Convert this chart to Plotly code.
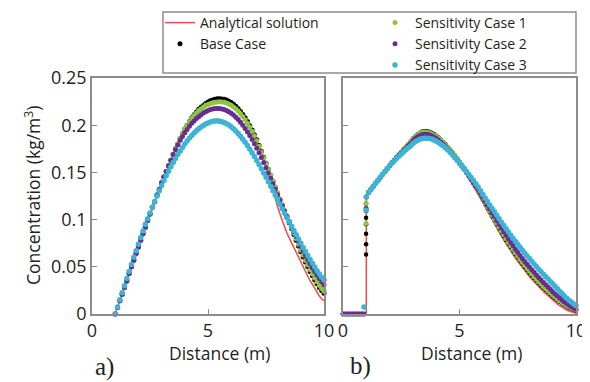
import plotly.graph_objects as go

# ---------------- data ----------------
a_x = [1.0, 1.1, 1.2, 1.3, 1.4, 1.5, 1.6, 1.7, 1.8, 1.9,
       2.0, 2.1, 2.2, 2.3, 2.4, 2.5, 2.6, 2.7, 2.8, 2.9,
       3.0, 3.1, 3.2, 3.3, 3.4, 3.5, 3.6, 3.7, 3.8, 3.9,
       4.0, 4.1, 4.2, 4.3, 4.4, 4.5, 4.6, 4.7, 4.8, 4.9,
       5.0, 5.1, 5.2, 5.3, 5.4, 5.5, 5.6, 5.7, 5.8, 5.9,
       6.0, 6.1, 6.2, 6.3, 6.4, 6.5, 6.6, 6.7, 6.8, 6.9,
       7.0, 7.1, 7.2, 7.3, 7.4, 7.5, 7.6, 7.7, 7.8, 7.9,
       8.0, 8.1, 8.2, 8.3, 8.4, 8.5, 8.6, 8.7, 8.8, 8.9,
       9.0, 9.1, 9.2, 9.3, 9.4, 9.5, 9.6, 9.7, 9.8, 9.9,
       10.0]
b_x = list(a_x)

# panel a)
a_base = [0.000, 0.007, 0.014, 0.021, 0.028, 0.035, 0.043, 0.050, 0.057, 0.064,
          0.071, 0.078, 0.085, 0.092, 0.099, 0.106, 0.113, 0.119, 0.126, 0.132,
          0.139, 0.145, 0.151, 0.157, 0.163, 0.169, 0.175, 0.180, 0.186, 0.191,
          0.196, 0.200, 0.204, 0.208, 0.211, 0.214, 0.217, 0.219, 0.221, 0.223,
          0.2245, 0.2258, 0.2268, 0.2275, 0.2279, 0.2280, 0.2278, 0.2274, 0.2266, 0.2255,
          0.2240, 0.2222, 0.2200, 0.2175, 0.2146, 0.2114, 0.2078, 0.2038, 0.1995, 0.1950,
          0.1900, 0.1845, 0.1785, 0.1723, 0.1660, 0.1597, 0.1534, 0.1470, 0.1405, 0.1340,
          0.1276, 0.1213, 0.1150, 0.1088, 0.1027, 0.0967, 0.0905, 0.0843, 0.0782, 0.0721,
          0.0660, 0.0605, 0.0550, 0.0500, 0.0450, 0.0405, 0.0360, 0.0320, 0.0280, 0.0250,
          0.0220]
a_analytical = [0.000, 0.007, 0.014, 0.021, 0.028, 0.035, 0.043, 0.050, 0.057, 0.064,
                0.071, 0.078, 0.085, 0.092, 0.099, 0.106, 0.113, 0.119, 0.126, 0.132,
                0.139, 0.145, 0.151, 0.157, 0.163, 0.169, 0.175, 0.180, 0.186, 0.191,
                0.196, 0.200, 0.204, 0.208, 0.211, 0.214, 0.217, 0.219, 0.221, 0.223,
                0.2245, 0.2258, 0.2268, 0.2275, 0.2279, 0.2280, 0.2278, 0.2274, 0.2266, 0.2255,
                0.2240, 0.2222, 0.2200, 0.2175, 0.2146, 0.2114, 0.2078, 0.2038, 0.1995, 0.1950,
                0.1900, 0.1845, 0.1785, 0.1723, 0.1660, 0.1577, 0.1484, 0.1390, 0.1295, 0.1210,
                0.1136, 0.1063, 0.0990, 0.0918, 0.0857, 0.0807, 0.0755, 0.0703, 0.0652, 0.0601,
                0.0550, 0.0505, 0.0450, 0.0400, 0.0350, 0.0315, 0.0270, 0.0230, 0.0190, 0.0160,
                0.0140]
a_case1 = [0.000, 0.007, 0.014, 0.021, 0.028, 0.035, 0.043, 0.050, 0.057, 0.064,
           0.071, 0.078, 0.085, 0.092, 0.099, 0.106, 0.113, 0.119, 0.126, 0.132,
           0.139, 0.145, 0.151, 0.157, 0.163, 0.169, 0.175, 0.180, 0.186, 0.191,
           0.196, 0.1998, 0.2036, 0.2074, 0.2102, 0.2130, 0.2157, 0.2175, 0.2193, 0.2211,
           0.2220, 0.2230, 0.2238, 0.2244, 0.2247, 0.2248, 0.2246, 0.2242, 0.2235, 0.2225,
           0.2211, 0.2194, 0.2174, 0.2150, 0.2123, 0.2092, 0.2058, 0.2020, 0.1980, 0.1936,
           0.1887, 0.1834, 0.1777, 0.1717, 0.1656, 0.1595, 0.1534, 0.1472, 0.1409, 0.1345,
           0.1282, 0.1220, 0.1158, 0.1097, 0.1037, 0.0978, 0.0917, 0.0856, 0.0796, 0.0736,
           0.0676, 0.0622, 0.0568, 0.0518, 0.0469, 0.0425, 0.0381, 0.0341, 0.0301, 0.0271,
           0.0240]
a_case2 = [0.000, 0.007, 0.014, 0.021, 0.028, 0.035, 0.043, 0.050, 0.057, 0.064,
           0.071, 0.078, 0.085, 0.092, 0.099, 0.106, 0.113, 0.119, 0.126, 0.132,
           0.139, 0.145, 0.151, 0.157, 0.163, 0.169, 0.174, 0.179, 0.184, 0.188,
           0.192, 0.1955, 0.199, 0.202, 0.2045, 0.207, 0.209, 0.211, 0.2128, 0.2143,
           0.2155, 0.2165, 0.2172, 0.2176, 0.2177, 0.2176, 0.2172, 0.2165, 0.2155, 0.2142,
           0.2126, 0.2107, 0.2085, 0.2060, 0.2032, 0.2000, 0.1966, 0.1929, 0.1890, 0.1848,
           0.1804, 0.1757, 0.1708, 0.1657, 0.1604, 0.1550, 0.1494, 0.1437, 0.1380, 0.1322,
           0.1264, 0.1206, 0.1149, 0.1092, 0.1036, 0.0981, 0.0927, 0.0874, 0.0822, 0.0772,
           0.0715, 0.0668, 0.0622, 0.0577, 0.0533, 0.0490, 0.0450, 0.0412, 0.0376, 0.0342,
           0.0310]
a_case3 = [0.000, 0.0075, 0.0150, 0.0225, 0.0300, 0.0375, 0.0450, 0.0525, 0.0600, 0.0670,
           0.0740, 0.0810, 0.0880, 0.0950, 0.1010, 0.1070, 0.1130, 0.1190, 0.1250, 0.1305,
           0.1360, 0.1413, 0.1464, 0.1513, 0.1560, 0.1605, 0.1648, 0.1689, 0.1728, 0.1765,
           0.1800, 0.1833, 0.1864, 0.1892, 0.1918, 0.1942, 0.1963, 0.1982, 0.1998, 0.2012,
           0.2024, 0.2034, 0.2041, 0.2045, 0.2046, 0.2043, 0.2037, 0.2028, 0.2016, 0.2001,
           0.1983, 0.1962, 0.1938, 0.1912, 0.1883, 0.1852, 0.1819, 0.1784, 0.1747, 0.1708,
           0.1668, 0.1626, 0.1583, 0.1539, 0.1494, 0.1448, 0.1401, 0.1354, 0.1306, 0.1258,
           0.1210, 0.1162, 0.1114, 0.1067, 0.1020, 0.0975, 0.0930, 0.0885, 0.0840, 0.0795,
           0.0750, 0.0705, 0.0662, 0.0620, 0.0578, 0.0537, 0.0497, 0.0459, 0.0423, 0.0390,
           0.0360]

# panel b)
b_pre_x = [0.0, 0.1, 0.2, 0.3, 0.4, 0.5, 0.6, 0.7, 0.8, 0.9]
b_zero_pre = [0.0, 0.0, 0.0, 0.0, 0.0, 0.0, 0.0, 0.0, 0.0, 0.0]
b_case3_pre = [-0.0015, -0.0015, -0.0015, -0.0015, -0.0015, -0.0015, -0.0015, -0.0015, -0.0015, 0.0075]
b_front_x = 0.99
b_base_front = [0.063, 0.074, 0.085, 0.095, 0.102, 0.109, 0.117]
b_case1_front = [0.096, 0.117]
b_case2_front = [0.112]
b_case3_front = [0.110]
b_line_x = [0.0, 1.0]
b_line_pre = [0.0, 0.0]

b_base = [0.1240, 0.1289, 0.1322, 0.1354, 0.1386, 0.1417, 0.1449, 0.1480, 0.1510, 0.1541,
          0.1571, 0.1601, 0.1630, 0.1659, 0.1688, 0.1716, 0.1744, 0.1771, 0.1798, 0.1824,
          0.1858, 0.1884, 0.1905, 0.1921, 0.1932, 0.1937, 0.1936, 0.1930, 0.1920, 0.1906,
          0.1889, 0.1869, 0.1847, 0.1823, 0.1797, 0.1770, 0.1741, 0.1711, 0.1680, 0.1647,
          0.1613, 0.1578, 0.1542, 0.1505, 0.1467, 0.1428, 0.1389, 0.1349, 0.1308, 0.1262,
          0.1216, 0.1170, 0.1125, 0.1080, 0.1036, 0.0992, 0.0949, 0.0906, 0.0864, 0.0823,
          0.0783, 0.0744, 0.0706, 0.0669, 0.0633, 0.0598, 0.0564, 0.0531, 0.0499, 0.0468,
          0.0438, 0.0409, 0.0381, 0.0354, 0.0328, 0.0303, 0.0279, 0.0255, 0.0232, 0.0210,
          0.0189, 0.0168, 0.0148, 0.0129, 0.0111, 0.0095, 0.0080, 0.0067, 0.0056, 0.0046,
          0.0038]
b_analytical = [0.1240, 0.1289, 0.1322, 0.1354, 0.1386, 0.1417, 0.1449, 0.1480, 0.1510, 0.1541,
                0.1571, 0.1601, 0.1630, 0.1659, 0.1688, 0.1716, 0.1744, 0.1771, 0.1798, 0.1824,
                0.1858, 0.1884, 0.1905, 0.1921, 0.1932, 0.1937, 0.1936, 0.1930, 0.1920, 0.1906,
                0.1889, 0.1869, 0.1847, 0.1823, 0.1797, 0.1770, 0.1736, 0.1701, 0.1665, 0.1627,
                0.1588, 0.1548, 0.1512, 0.1475, 0.1437, 0.1393, 0.1351, 0.1309, 0.1268, 0.1222,
                0.1176, 0.1130, 0.1085, 0.1040, 0.0996, 0.0952, 0.0909, 0.0866, 0.0824, 0.0783,
                0.0743, 0.0704, 0.0666, 0.0629, 0.0593, 0.0558, 0.0524, 0.0491, 0.0459, 0.0428,
                0.0398, 0.0369, 0.0341, 0.0314, 0.0288, 0.0263, 0.0239, 0.0215, 0.0192, 0.0170,
                0.0149, 0.0128, 0.0108, 0.0089, 0.0071, 0.0055, 0.0042, 0.0031, 0.0021, 0.0014,
                0.0008]
b_case1 = [0.1240, 0.1289, 0.1322, 0.1354, 0.1386, 0.1417, 0.1449, 0.1480, 0.1510, 0.1541,
           0.1571, 0.1601, 0.1630, 0.1659, 0.1688, 0.1716, 0.1744, 0.1771, 0.1798, 0.1824,
           0.1855, 0.1879, 0.1899, 0.1914, 0.1924, 0.1928, 0.1926, 0.1920, 0.1910, 0.1896,
           0.1880, 0.1861, 0.1840, 0.1817, 0.1792, 0.1766, 0.1738, 0.1709, 0.1679, 0.1647,
           0.1614, 0.1580, 0.1545, 0.1509, 0.1472, 0.1433, 0.1395, 0.1355, 0.1314, 0.1268,
           0.1223, 0.1178, 0.1133, 0.1089, 0.1045, 0.1002, 0.0960, 0.0918, 0.0877, 0.0837,
           0.0797, 0.0758, 0.0720, 0.0683, 0.0647, 0.0612, 0.0578, 0.0545, 0.0513, 0.0482,
           0.0452, 0.0423, 0.0395, 0.0368, 0.0342, 0.0317, 0.0292, 0.0268, 0.0245, 0.0223,
           0.0201, 0.0180, 0.0160, 0.0141, 0.0123, 0.0106, 0.0091, 0.0077, 0.0064, 0.0053,
           0.0044]
b_case2 = [0.1240, 0.1289, 0.1322, 0.1354, 0.1386, 0.1417, 0.1449, 0.1480, 0.1510, 0.1541,
           0.1571, 0.1601, 0.1630, 0.1659, 0.1683, 0.1706, 0.1732, 0.1757, 0.1782, 0.1806,
           0.1836, 0.1858, 0.1877, 0.1891, 0.1901, 0.1905, 0.1904, 0.1898, 0.1889, 0.1876,
           0.1860, 0.1841, 0.1820, 0.1797, 0.1772, 0.1746, 0.1718, 0.1690, 0.1661, 0.1630,
           0.1598, 0.1566, 0.1533, 0.1498, 0.1463, 0.1428, 0.1393, 0.1357, 0.1320, 0.1278,
           0.1236, 0.1194, 0.1152, 0.1111, 0.1071, 0.1032, 0.0991, 0.0950, 0.0910, 0.0871,
           0.0833, 0.0795, 0.0758, 0.0722, 0.0687, 0.0653, 0.0620, 0.0588, 0.0557, 0.0527,
           0.0498, 0.0469, 0.0441, 0.0414, 0.0387, 0.0360, 0.0334, 0.0309, 0.0285, 0.0261,
           0.0236, 0.0212, 0.0190, 0.0169, 0.0149, 0.0128, 0.0110, 0.0093, 0.0077, 0.0063,
           0.0050]
b_case3 = [0.1240, 0.1289, 0.1322, 0.1354, 0.1386, 0.1417, 0.1449, 0.1480, 0.1510, 0.1541,
           0.1571, 0.1597, 0.1622, 0.1647, 0.1672, 0.1696, 0.1718, 0.1739, 0.1760, 0.1780,
           0.1806, 0.1824, 0.1839, 0.1850, 0.1858, 0.1862, 0.1862, 0.1859, 0.1853, 0.1843,
           0.1831, 0.1816, 0.1799, 0.1780, 0.1759, 0.1736, 0.1711, 0.1685, 0.1658, 0.1629,
           0.1599, 0.1570, 0.1540, 0.1509, 0.1478, 0.1447, 0.1415, 0.1381, 0.1346, 0.1306,
           0.1266, 0.1228, 0.1191, 0.1154, 0.1118, 0.1082, 0.1045, 0.1008, 0.0972, 0.0937,
           0.0903, 0.0868, 0.0834, 0.0801, 0.0769, 0.0738, 0.0706, 0.0675, 0.0645, 0.0615,
           0.0588, 0.0558, 0.0530, 0.0502, 0.0475, 0.0448, 0.0421, 0.0395, 0.0370, 0.0345,
           0.0320, 0.0294, 0.0268, 0.0242, 0.0216, 0.0192, 0.0168, 0.0146, 0.0126, 0.0107,
           0.0090]

x_ticks = [0, 5, 10]
x_tick_text = ["0", "5", "10"]
y_ticks = [0, 0.05, 0.1, 0.15, 0.2, 0.25]
y_tick_text = ["0", "0.05", "0.1", "0.15", "0.2", "0.25"]

for nm, arr in [("a_base", a_base), ("a_analytical", a_analytical), ("a_case1", a_case1),
                ("a_case2", a_case2), ("a_case3", a_case3), ("b_base", b_base),
                ("b_analytical", b_analytical), ("b_case1", b_case1), ("b_case2", b_case2),
                ("b_case3", b_case3)]:
    if len(arr) != len(a_x):
        raise ValueError(f"{nm} has {len(arr)} values, expected {len(a_x)}")

# ---------------- styling ----------------
W, H = 590, 382
PAGE_OFF = 8          # default body margin of the page the figure is shown in
RED = "#f04b4b"
BLACK = "#000000"
GREEN = "#8dc63f"
PURPLE = "#6a2c91"
CYAN = "#3cb4d6"
AX = "#8c8c8c"
TXT = "#231f20"
FONT = "Open Sans"


def px(v):
    return (v - PAGE_OFF) / W


def py(v):
    return 1 - (v - PAGE_OFF) / H


fig = go.Figure()

# ---- panel a ----
fig.add_trace(go.Scatter(x=a_x, y=a_analytical, mode="lines", name="Analytical solution",
                         line=dict(color=RED, width=1.5), legend="legend",
                         xaxis="x", yaxis="y", cliponaxis=False))
series_a = [("Base Case", a_base, BLACK, 5, "legend"),
            ("Sensitivity Case 1", a_case1, GREEN, 5, "legend2"),
            ("Sensitivity Case 2", a_case2, PURPLE, 5, "legend2"),
            ("Sensitivity Case 3", a_case3, CYAN, 5.5, "legend2")]
for name, ys, col, sz, lg in series_a:
    fig.add_trace(go.Scatter(x=a_x, y=ys, mode="markers", name=name,
                             marker=dict(color=col, size=sz, line=dict(width=0)),
                             legend=lg, xaxis="x", yaxis="y", cliponaxis=False))

# ---- panel b ----
fig.add_trace(go.Scatter(x=b_line_x + b_x, y=b_line_pre + b_analytical, mode="lines",
                         line=dict(color=RED, width=1.5), showlegend=False,
                         xaxis="x2", yaxis="y2", cliponaxis=False))
series_b = [
    (b_pre_x + [b_front_x] * len(b_base_front) + b_x, b_zero_pre + b_base_front + b_base, BLACK, 4.5),
    (b_pre_x + [b_front_x] * len(b_case1_front) + b_x, b_zero_pre + b_case1_front + b_case1, GREEN, 5),
    (b_pre_x + [b_front_x] * len(b_case2_front) + b_x, b_zero_pre + b_case2_front + b_case2, PURPLE, 5),
    (b_pre_x + [b_front_x] * len(b_case3_front) + b_x, b_case3_pre + b_case3_front + b_case3, CYAN, 5.5),
]
for xs, ys, col, sz in series_b:
    fig.add_trace(go.Scatter(x=xs, y=ys, mode="markers", showlegend=False,
                             marker=dict(color=col, size=sz, line=dict(width=0)),
                             xaxis="x2", yaxis="y2", cliponaxis=False))

axis_common = dict(showline=True, linecolor=AX, linewidth=1.5, mirror=True,
                   ticks="inside", ticklen=5, tickwidth=1, tickcolor=AX,
                   showgrid=False, zeroline=False, automargin=False,
                   tickfont=dict(family=FONT, size=18, color=TXT))
y_dom = [py(314), py(78)]


def label(text, x, y, size=17, family=FONT, angle=0):
    return dict(text=text, x=px(x), y=py(y), xref="paper", yref="paper",
                xanchor="center", yanchor="middle", textangle=angle, showarrow=False,
                font=dict(family=family, size=size, color=TXT))


fig.update_layout(
    width=W, height=H,
    margin=dict(l=0, r=0, t=0, b=0, pad=0, autoexpand=False),
    paper_bgcolor="white", plot_bgcolor="white",
    font=dict(family=FONT, color=TXT),
    xaxis=dict(domain=[px(92), px(324)], range=[0, 10], tickvals=x_ticks, ticktext=x_tick_text,
               anchor="y", **axis_common),
    yaxis=dict(domain=y_dom, range=[0, 0.25], tickvals=y_ticks, ticktext=y_tick_text,
               anchor="x", **axis_common),
    xaxis2=dict(domain=[px(343), px(576)], range=[0, 10], tickvals=x_ticks, ticktext=x_tick_text,
                anchor="y2", **axis_common),
    yaxis2=dict(domain=y_dom, range=[0, 0.25], tickvals=y_ticks, ticktext=y_tick_text,
                showticklabels=False, anchor="x2", **axis_common),
    legend=dict(x=px(160), y=py(7), xanchor="left", yanchor="top",
                bgcolor="rgba(0,0,0,0)", borderwidth=0, tracegroupgap=0,
                font=dict(family=FONT, size=14, color=TXT)),
    legend2=dict(x=px(375), y=py(7), xanchor="left", yanchor="top",
                 bgcolor="rgba(0,0,0,0)", borderwidth=0, tracegroupgap=0,
                 font=dict(family=FONT, size=14, color=TXT)),
    shapes=[dict(type="rect", xref="paper", yref="paper",
                 x0=px(163), x1=px(576), y0=py(73), y1=py(12),
                 line=dict(color=AX, width=1.5), fillcolor="rgba(0,0,0,0)")],
    annotations=[
        label("Concentration (kg/m<sup>3</sup>)", 32, 196, size=17.5, angle=-90),
        label("Distance (m)", 219, 353, size=17.5),
        label("Distance (m)", 471, 353, size=17.5),
        label("a)", 104, 367, size=25, family="Liberation Serif"),
        label("b)", 360, 366, size=25, family="Liberation Serif"),
    ],
)

fig.write_html("out.html")
